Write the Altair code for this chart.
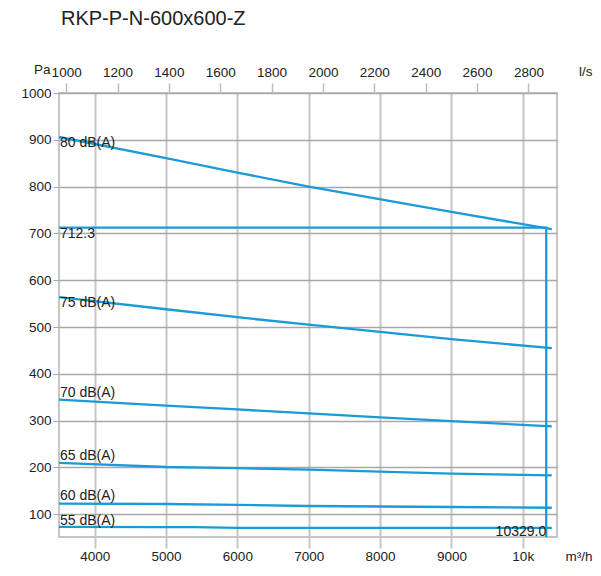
import altair as alt
import pandas as pd

# ---- data ----
curve_names = ["80 dB(A)", "75 dB(A)", "70 dB(A)", "65 dB(A)", "60 dB(A)", "55 dB(A)"]
flow_80 = [3500, 5000, 6000, 7000, 9000, 10407]
pa_80 = [906, 861, 830, 800, 746, 709]
flow_75 = [3500, 5000, 6000, 7000, 9000, 10407]
pa_75 = [564, 538, 521, 505, 474, 455]
flow_70 = [3500, 5000, 6000, 7000, 8000, 9000, 10407]
pa_70 = [345, 332, 324, 315.5, 307, 299, 288]
flow_65 = [3500, 5000, 6000, 7000, 8000, 9000, 10407]
pa_65 = [210, 201, 198.5, 195.5, 191, 187, 183]
flow_60 = [3500, 5000, 6000, 7000, 9000, 10407]
pa_60 = [123, 122, 120, 117.7, 115.6, 114]
flow_55 = [3500, 5000, 5400, 6000, 8000, 10407]
pa_55 = [73, 72.5, 72.5, 71, 71, 71]

label_pa = [885, 543, 350, 215, 130, 78]

op_flow = 10329.0
op_pa = 712.3

x_min, x_max = 3500, 10480
y_min, y_max = 51.5, 1000

bottom_ticks = [4000, 5000, 6000, 7000, 8000, 9000, 10000]
top_ticks_ls = [1000, 1200, 1400, 1600, 1800, 2000, 2200, 2400, 2600, 2800]
y_ticks = [100, 200, 300, 400, 500, 600, 700, 800, 900, 1000]

title_text = "RKP-P-N-600x600-Z"

# ---- tables ----
flows = [flow_80, flow_75, flow_70, flow_65, flow_60, flow_55]
pas = [pa_80, pa_75, pa_70, pa_65, pa_60, pa_55]
rows = []
for name, fs, ps in zip(curve_names, flows, pas):
    for i, (f, p) in enumerate(zip(fs, ps)):
        rows.append({"curve": name, "flow": f, "pa": p, "o": i})
curves = pd.DataFrame(rows)

labels = pd.DataFrame({"curve": curve_names, "flow": [x_min] * 6, "pa": label_pa})

op_line = pd.DataFrame({
    "flow": [x_min, op_flow, op_flow],
    "pa": [op_pa, op_pa, y_min],
    "o": [0, 1, 2],
})
op_text = pd.DataFrame({
    "flow": [x_min, op_flow],
    "pa": [op_pa, y_min],
    "txt": [f"{op_pa:.1f}", f"{op_flow:.1f}"],
})

BLUE = "#1a9bd7"
FONT = "Liberation Sans"
W, H = 498, 444
PAD = {"left": 51, "top": 85, "right": 36, "bottom": 26}

xscale = alt.Scale(domain=[x_min, x_max], nice=False, zero=False)
yscale = alt.Scale(domain=[y_min, y_max], nice=False, zero=False)

x_bottom = alt.X(
    "flow:Q", scale=xscale,
    axis=alt.Axis(
        orient="bottom", values=bottom_ticks,
        labelExpr="datum.value == 10000 ? '10k' : '' + datum.value",
        grid=True, gridColor="#c6c6c6", gridWidth=2,
        ticks=True, tickSize=11, tickColor="#c6c6c6", tickWidth=2,
        domain=False, labelPadding=12, labelBaseline="alphabetic",
        labelFontSize=13.5, labelColor="#222",
        title="m³/h", titleX=W + PAD["right"] - 1, titleY=23, titleAlign="right",
        titleBaseline="alphabetic", titleFontWeight="normal", titleFontSize=13.5,
        titleColor="#222", labelFlush=False,
    ),
)
x_top = alt.X(
    "flow:Q", scale=xscale,
    axis=alt.Axis(
        orient="top", values=[v * 3.6 for v in top_ticks_ls],
        labelExpr="format(datum.value / 3.6, '.0f')",
        grid=False, ticks=True, tickSize=10, tickColor="#bdbdbd", tickWidth=1.5,
        domain=False, labelPadding=4, labelFontSize=13.5, labelColor="#222",
        title="l/s", titleX=W + PAD["right"] - 1, titleY=-18, titleAlign="right",
        titleBaseline="alphabetic", titleFontWeight="normal", titleFontSize=13.5,
        titleColor="#222", labelFlush=False,
    ),
)
y_enc = alt.Y(
    "pa:Q", scale=yscale,
    axis=alt.Axis(
        values=y_ticks, format="d", grid=True, gridColor="#a8a8a8", gridWidth=1.5,
        ticks=True, tickSize=6, tickColor="#a8a8a8", domain=False,
        labelPadding=2, labelFontSize=13.5, labelColor="#222",
        title="Pa", titleAngle=0, titleX=-9, titleY=-20, titleAlign="right",
        titleBaseline="alphabetic", titleFontWeight="normal", titleFontSize=13.5,
        titleColor="#222", labelFlush=False,
    ),
)
x_plain = alt.X("flow:Q", scale=xscale, axis=None)
y_plain = alt.Y("pa:Q", scale=yscale)

curve_layer = alt.Chart(curves).mark_line(color=BLUE, strokeWidth=2.3).encode(
    x=x_bottom, y=y_enc, detail="curve:N", order="o:Q"
)
op_layer = alt.Chart(op_line).mark_line(color=BLUE, strokeWidth=2.3).encode(
    x=x_top, y=y_plain, order="o:Q"
)
label_layer = alt.Chart(labels).mark_text(
    align="left", baseline="alphabetic", dx=1, fontSize=14, color="#222", font=FONT
).encode(x=x_plain, y=y_plain, text="curve:N")

op_text_left = alt.Chart(op_text.iloc[[0]]).mark_text(
    align="left", baseline="alphabetic", dx=1, dy=10.5, fontSize=14, color="#222", font=FONT
).encode(x=x_plain, y=y_plain, text="txt:N")
op_text_right = alt.Chart(op_text.iloc[[1]]).mark_text(
    align="right", baseline="alphabetic", dx=0, dy=-1.5, fontSize=14, color="#222", font=FONT
).encode(x=x_plain, y=y_plain, text="txt:N")

chart = alt.layer(
    curve_layer, op_layer, label_layer, op_text_left, op_text_right
).resolve_axis(x="independent").properties(
    width=W, height=H,
    autosize=alt.AutoSizeParams(type="none"),
    padding=PAD,
    title=alt.TitleParams(
        title_text, anchor="start", frame="group", fontSize=20,
        fontWeight="normal", font=FONT, color="#222", offset=33, dx=2,
    ),
).configure(font=FONT).configure_view(stroke="#c6c6c6", strokeWidth=2)

chart.save("out.html", embed_options={"renderer": "svg", "actions": False})
